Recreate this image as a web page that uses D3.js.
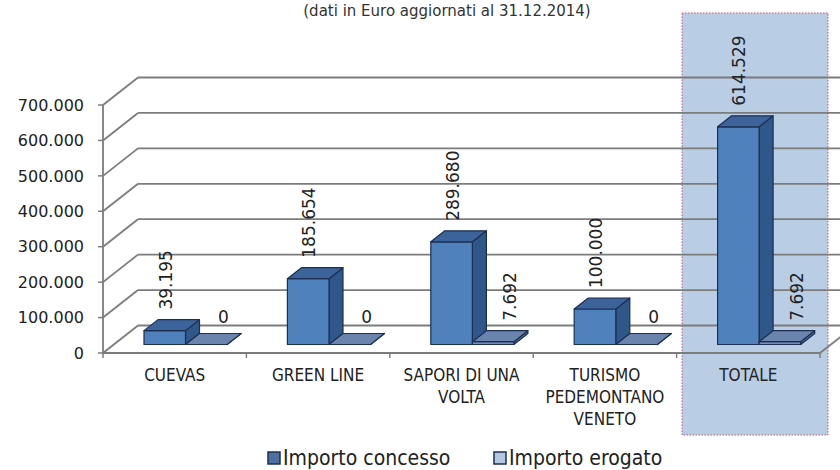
<!DOCTYPE html>
<html>
<head>
<meta charset="utf-8">
<script src="https://cdn.jsdelivr.net/npm/d3@7"></script>
<style>
  body { margin: 0; background: #fff; }
  svg { display: block; }
  .cond { font-family: "DejaVu Sans Condensed", "DejaVu Sans", sans-serif; font-stretch: condensed; }
  .reg  { font-family: "DejaVu Sans", sans-serif; }
</style>
</head>
<body>
<script>
// dati
var categorie = ["CUEVAS", "GREEN LINE", "SAPORI DI UNA VOLTA", "TURISMO PEDEMONTANO VENETO", "TOTALE"];
var righeCategorie = [["CUEVAS"], ["GREEN LINE"], ["SAPORI DI UNA", "VOLTA"], ["TURISMO", "PEDEMONTANO", "VENETO"], ["TOTALE"]];
var serie = ["Importo concesso", "Importo erogato"];
var importoConcesso = [39195, 185654, 289680, 100000, 614529];
var importoErogato = [0, 0, 7692, 0, 7692];
var tickY = [0, 100000, 200000, 300000, 400000, 500000, 600000, 700000];
var sottotitolo = "(dati in Euro aggiornati al 31.12.2014)";

var svgW = 840, svgH = 470;
var asseX0 = 103, asseX1 = 820;
var pianoY0 = 353, pianoY700 = 105;
var profX = 35, profY = 27.5;     // profondita' 3D
var barraD0 = 0.31, barraD1 = 0.71;

var colori = {
  "Importo concesso": { fronte: "#4f81bd", lato: "#30578a", sopra: "#3c639a", legenda: "#4f6fa0" },
  "Importo erogato":  { fronte: "#7690b8", lato: "#566e96", sopra: "#6a84ad", legenda: "#b3c6e2" }
};
var bordo = "#1c2f52";
var griglia = "#7c7c7c";

var it = d3.formatLocale({ decimal: ",", thousands: ".", grouping: [3], currency: ["€", ""] });
var fmt = it.format(",");

var dati = categorie.map(function (c, i) {
  return { cat: c, valori: [
    { serie: serie[0], v: importoConcesso[i] },
    { serie: serie[1], v: importoErogato[i] }
  ]};
});

var svg = d3.select("body").append("svg")
  .attr("width", svgW)
  .attr("height", svgH);

var x0 = d3.scaleBand()
  .domain(categorie)
  .range([asseX0, asseX1])
  .paddingInner(0.42)
  .paddingOuter(0.21);

var x1 = d3.scaleBand()
  .domain(serie)
  .range([0, x0.bandwidth()]);

var yScale = d3.scaleLinear()
  .domain([0, 700000])
  .range([pianoY0, pianoY700]);

function P(x, v, d) {
  return [x + d * profX, yScale(v) - d * profY];
}
function poly(pts) {
  return pts.map(function (p) { return p[0].toFixed(1) + "," + p[1].toFixed(1); }).join(" ");
}

// riquadro evidenziato TOTALE
svg.append("rect")
  .attr("x", 682).attr("y", 13)
  .attr("width", 146).attr("height", 422)
  .attr("fill", "#b9cde5")
  .attr("stroke", "#c8557a")
  .attr("stroke-width", 1)
  .attr("stroke-dasharray", "1.5,1.5");

// sottotitolo
svg.append("text")
  .attr("class", "reg")
  .attr("x", 447).attr("y", 16)
  .attr("text-anchor", "middle")
  .attr("font-size", "15px")
  .attr("fill", "#333")
  .text(sottotitolo);

/* >>>>>>>>>>>>>>>>>>>>>>>>>>>>>>>>>>>>>>>>>>>>>>>>>>>>>>>> griglia e assi */

var g = svg.append("g");

g.selectAll("line.diag")
  .data(tickY).enter().append("line")
  .attr("x1", function (d) { return P(asseX0, d, 0)[0]; })
  .attr("y1", function (d) { return P(asseX0, d, 0)[1]; })
  .attr("x2", function (d) { return P(asseX0, d, 1)[0]; })
  .attr("y2", function (d) { return P(asseX0, d, 1)[1]; })
  .attr("stroke", griglia).attr("stroke-width", 1.8);

g.selectAll("line.back")
  .data(tickY).enter().append("line")
  .attr("x1", function (d) { return P(asseX0, d, 1)[0]; })
  .attr("y1", function (d) { return P(asseX0, d, 1)[1]; })
  .attr("x2", svgW + 40)
  .attr("y2", function (d) { return P(asseX0, d, 1)[1]; })
  .attr("stroke", griglia).attr("stroke-width", 1.8);

// pavimento: bordo anteriore e lato destro
g.append("line")
  .attr("x1", asseX0).attr("y1", yScale(0))
  .attr("x2", asseX1).attr("y2", yScale(0))
  .attr("stroke", griglia).attr("stroke-width", 1.8);
g.append("line")
  .attr("x1", P(asseX1, 0, 0)[0]).attr("y1", P(asseX1, 0, 0)[1])
  .attr("x2", P(asseX1, 0, 1)[0]).attr("y2", P(asseX1, 0, 1)[1])
  .attr("stroke", griglia).attr("stroke-width", 1.8);

// asse verticale
g.append("line")
  .attr("x1", asseX0).attr("y1", yScale(0))
  .attr("x2", asseX0).attr("y2", yScale(700000))
  .attr("stroke", griglia).attr("stroke-width", 1.8);

g.selectAll("line.tickY")
  .data(tickY).enter().append("line")
  .attr("x1", asseX0 - 5).attr("x2", asseX0)
  .attr("y1", function (d) { return yScale(d); })
  .attr("y2", function (d) { return yScale(d); })
  .attr("stroke", griglia).attr("stroke-width", 1.5);

g.selectAll("text.tickY")
  .data(tickY).enter().append("text")
  .attr("class", "reg")
  .attr("x", asseX0 - 19)
  .attr("y", function (d) { return yScale(d); })
  .attr("dy", "0.36em")
  .attr("text-anchor", "end")
  .attr("font-size", "16px")
  .attr("fill", "#222")
  .text(function (d) { return fmt(d); });

// tacche categorie
var confini = categorie.map(function (c) { return x0(c) - x0.step() * x0.paddingInner() / 2; });
confini[0] = asseX0;
confini.push(asseX1);
g.selectAll("line.tickX")
  .data(confini).enter().append("line")
  .attr("x1", function (d) { return d; }).attr("x2", function (d) { return d; })
  .attr("y1", yScale(0)).attr("y2", yScale(0) + 5)
  .attr("stroke", griglia).attr("stroke-width", 1.5);

var etichette = g.selectAll("text.cat")
  .data(categorie).enter().append("text")
  .attr("class", "cond")
  .attr("font-size", "17px")
  .attr("fill", "#222")
  .attr("text-anchor", "middle");
etichette.each(function (c, i) {
  var t = d3.select(this);
  righeCategorie[i].forEach(function (r, k) {
    t.append("tspan")
      .attr("x", x0(c) + x0.bandwidth() / 2)
      .attr("y", 381 + k * 22)
      .text(r);
  });
});

/* >>>>>>>>>>>>>>>>>>>>>>>>>>>>>>>>>>>>>>>>>>>>>>>>>>>>>>>> barre 3D */

var gruppi = svg.selectAll("g.gruppo")
  .data(dati).enter().append("g")
  .attr("class", "gruppo");

gruppi.each(function (d) {
  var gg = d3.select(this);
  d.valori.forEach(function (s) {
    var xl = x0(d.cat) + x1(s.serie);
    var xr = xl + x1.bandwidth();
    var c = colori[s.serie];
    gg.append("polygon")
      .attr("points", poly([P(xr, 0, barraD0), P(xr, 0, barraD1), P(xr, s.v, barraD1), P(xr, s.v, barraD0)]))
      .attr("fill", c.lato).attr("stroke", bordo).attr("stroke-width", 1.2).attr("stroke-linejoin", "round");
    gg.append("polygon")
      .attr("points", poly([P(xl, 0, barraD0), P(xr, 0, barraD0), P(xr, s.v, barraD0), P(xl, s.v, barraD0)]))
      .attr("fill", c.fronte).attr("stroke", bordo).attr("stroke-width", 1.2).attr("stroke-linejoin", "round");
    gg.append("polygon")
      .attr("points", poly([P(xl, s.v, barraD0), P(xr, s.v, barraD0), P(xr, s.v, barraD1), P(xl, s.v, barraD1)]))
      .attr("fill", c.sopra).attr("stroke", bordo).attr("stroke-width", 1.2).attr("stroke-linejoin", "round");
  });
});

// etichette valori
gruppi.each(function (d) {
  var gg = d3.select(this);
  d.valori.forEach(function (s, j) {
    var xm = x0(d.cat) + x1(s.serie) + x1.bandwidth() / 2;
    var fronte = P(xm, s.v, barraD0);
    var retro = P(xm, s.v, barraD1);
    var lx = j === 0 ? fronte[0] + 1 : retro[0] + 3;
    var ly = retro[1] - 10;
    var testo = fmt(s.v);
    var t = gg.append("text")
      .attr("class", "reg")
      .attr("font-size", "17px")
      .attr("fill", "#222")
      .text(testo);
    if (testo.length > 1) {
      t.attr("transform", "translate(" + lx + "," + ly + ") rotate(-90)")
       .attr("dy", "0.36em");
    } else {
      t.attr("x", lx).attr("y", ly).attr("text-anchor", "middle");
    }
  });
});

/* >>>>>>>>>>>>>>>>>>>>>>>>>>>>>>>>>>>>>>>>>>>>>>>>>>>>>>>> legenda */

var posLegenda = [268, 494];
var leg = svg.selectAll("g.leg")
  .data(serie).enter().append("g")
  .attr("transform", function (d, i) { return "translate(" + posLegenda[i] + ",452)"; });
leg.append("rect")
  .attr("width", 12).attr("height", 12)
  .attr("fill", function (d) { return colori[d].legenda; })
  .attr("stroke", bordo).attr("stroke-width", 1.5);
leg.append("text")
  .attr("class", "cond")
  .attr("x", 15).attr("y", 13)
  .attr("font-size", "21px")
  .attr("fill", "#222")
  .text(function (d) { return d; });
</script>
</body>
</html>
